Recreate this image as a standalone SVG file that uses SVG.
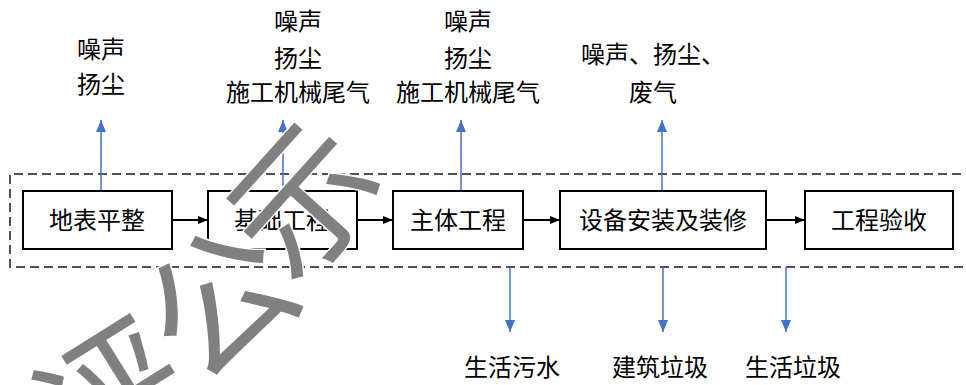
<svg xmlns="http://www.w3.org/2000/svg" width="966" height="385" viewBox="0 0 966 385">
  <defs>
    <style>
      .t { font-family: "Noto Sans CJK SC", "Noto Sans", sans-serif; font-size: 24px; fill: #000; text-anchor: middle; }
      .box { fill: #fff; stroke: #000; stroke-width: 2; }
      .flow { stroke: #000; stroke-width: 2; fill: none; marker-end: url(#ab); }
      .out { stroke: #4472C4; stroke-width: 1.5; fill: none; marker-end: url(#au); }
      .wm { font-family: "Noto Sans CJK SC", sans-serif; font-size: 145px; fill: #808080; text-anchor: middle; stroke: #fff; stroke-width: 3; paint-order: stroke; }
    </style>
    <marker id="ab" viewBox="0 0 10 8" refX="10" refY="4" markerWidth="10" markerHeight="8" orient="auto" markerUnits="userSpaceOnUse">
      <path d="M0,0 L10,4 L0,8 z" fill="#000"/>
    </marker>
    <marker id="au" viewBox="0 0 12 10" refX="12" refY="5" markerWidth="12" markerHeight="10" orient="auto" markerUnits="userSpaceOnUse">
      <path d="M0,0 L12,5 L0,10 z" fill="#4472C4"/>
    </marker>
  </defs>
  <rect width="966" height="385" fill="#fff"/>

  <!-- dashed boundary -->
  <path d="M975,174 H10 V267 H975" fill="none" stroke="#4a5260" stroke-width="2" stroke-dasharray="9 5"/>

  <g id="connectors">
    <line class="flow" x1="172" y1="220" x2="208" y2="220"/>
    <line class="flow" x1="357" y1="220" x2="393" y2="220"/>
    <line class="flow" x1="523" y1="220" x2="560" y2="220"/>
    <line class="flow" x1="766" y1="220" x2="805" y2="220"/>
    <line class="out" x1="101" y1="191" x2="101" y2="120"/>
    <line class="out" x1="283" y1="191" x2="283" y2="120"/>
    <line class="out" x1="461" y1="191" x2="461" y2="120"/>
    <line class="out" x1="662" y1="191" x2="662" y2="120"/>
    <line class="out" x1="510" y1="267" x2="510" y2="332"/>
    <line class="out" x1="663" y1="267" x2="663" y2="332"/>
    <line class="out" x1="786" y1="267" x2="786" y2="332"/>
  </g>

  <g id="n1"><rect class="box" x="23" y="191" width="149" height="58"/><text class="t" x="97" y="229">地表平整</text></g>
  <g id="n2"><rect class="box" x="208" y="191" width="149" height="58"/><text class="t" x="282" y="229">基础工程</text></g>
  <g id="n3"><rect class="box" x="393" y="191" width="130" height="58"/><text class="t" x="458" y="229">主体工程</text></g>
  <g id="n4"><rect class="box" x="560" y="191" width="206" height="58"/><text class="t" x="663" y="229">设备安装及装修</text></g>
  <g id="n5"><rect class="box" x="805" y="191" width="148" height="58"/><text class="t" x="879" y="229">工程验收</text></g>

  <g id="e1"><text class="t" x="101" y="58">噪声</text><text class="t" x="101" y="93">扬尘</text></g>
  <g id="e2"><text class="t" x="298" y="30">噪声</text><text class="t" x="298" y="67">扬尘</text><text class="t" x="298" y="101">施工机械尾气</text></g>
  <g id="e3"><text class="t" x="468" y="30">噪声</text><text class="t" x="468" y="67">扬尘</text><text class="t" x="468" y="101">施工机械尾气</text></g>
  <g id="e4"><text class="t" x="653" y="63">噪声、扬尘、</text><text class="t" x="653" y="101">废气</text></g>
  <g id="w1"><text class="t" x="512" y="376">生活污水</text></g>
  <g id="w2"><text class="t" x="660" y="376">建筑垃圾</text></g>
  <g id="w3"><text class="t" x="793" y="376">生活垃圾</text></g>

  <!-- watermark -->
  <g id="watermark">
    <text class="wm" transform="translate(112,398) rotate(-32)" y="52">评</text>
    <text class="wm" transform="translate(220,302) rotate(-40)" y="52">公</text>
    <text class="wm" transform="translate(304,200) rotate(-48)" y="52">示</text>
  </g>
</svg>
